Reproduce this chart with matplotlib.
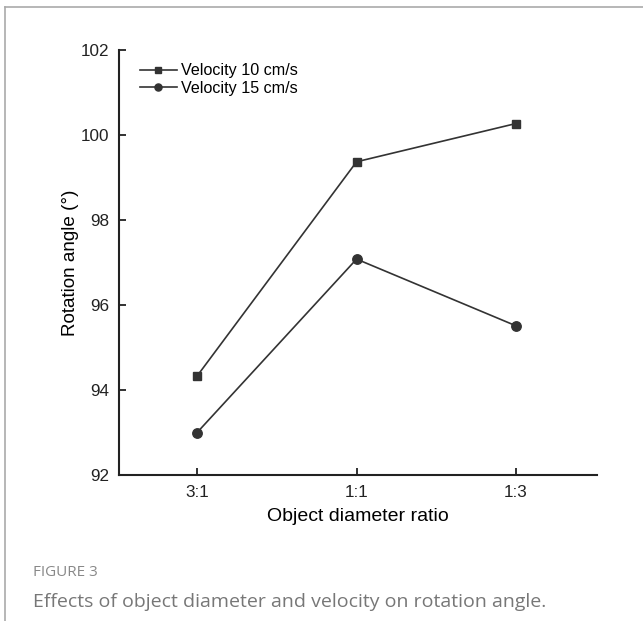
import matplotlib
matplotlib.use("Agg")
import matplotlib.pyplot as plt
from matplotlib.lines import Line2D

categories = ["3:1", "1:1", "1:3"]
vel10 = [94.33, 99.37, 100.27]
vel15 = [93.0, 97.08, 95.51]
series_names = ["Velocity 10 cm/s", "Velocity 15 cm/s"]
yticks = [92, 94, 96, 98, 100, 102]

plt.rcParams['font.family'] = ['Liberation Sans', 'DejaVu Sans']
fig = plt.figure(figsize=(6.43, 6.21), dpi=100)
ax = fig.add_axes([119/643, 1-475/621, (597-119)/643, (475-50)/621])

x = list(range(len(categories)))
col = '#333333'
ax.plot(x, vel10, color=col, lw=1.2, marker='s', ms=6, label=series_names[0])
ax.plot(x, vel15, color=col, lw=1.2, marker='o', ms=6.8, label=series_names[1])

ax.set_xlim(-0.49, 2.508)
ax.set_ylim(92, 102)
ax.set_xticks(x)
ax.set_xticklabels(categories)
ax.set_yticks(yticks)
ax.set_yticklabels([str(v) for v in yticks])
for s in ['top', 'right']:
    ax.spines[s].set_visible(False)
for s in ['left', 'bottom']:
    ax.spines[s].set_linewidth(1.5)
    ax.spines[s].set_color('#222222')
ax.tick_params(direction='in', length=5, width=1.3, labelsize=12.3, colors='#222222', pad=7)
ax.set_xlabel("Object diameter ratio", fontsize=14, labelpad=6)
ax.set_ylabel("Rotation angle (°)", fontsize=13.6, labelpad=1)

leg = ax.legend(loc='upper left', bbox_to_anchor=(0.02, 0.995), frameon=False, fontsize=11.6,
                handlelength=2.3, handletextpad=0.25, labelspacing=0.15, borderaxespad=0.3,
                markerscale=0.75)

# frame lines
fig.add_artist(Line2D([5/643, 1], [1-7/621, 1-7/621], color='#aaaaaa', lw=1.2))
fig.add_artist(Line2D([5/643, 5/643], [0, 1-7/621], color='#aaaaaa', lw=1.2))

fig.text(33/643, 1-572/621, "FIGURE 3", fontsize=11, color='#888888', family=['Open Sans', 'DejaVu Sans'], va='center')
fig.text(33/643, 1-602/621, "Effects of object diameter and velocity on rotation angle.", fontsize=14,
         color='#777777', family=['Open Sans', 'DejaVu Sans'], va='center')

fig.savefig("out.png", dpi=100)
